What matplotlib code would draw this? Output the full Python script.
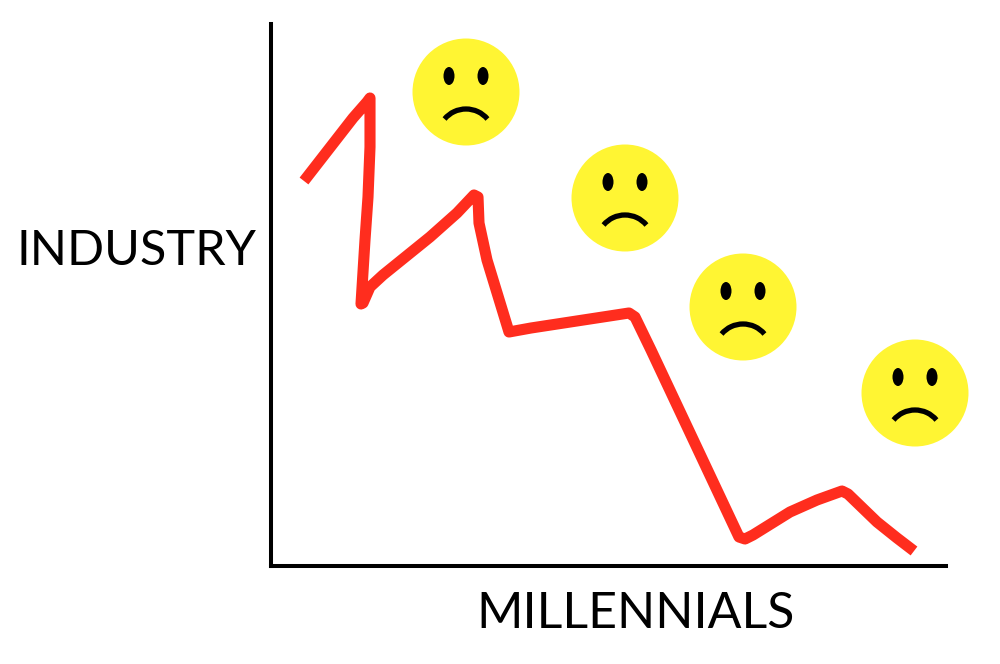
import matplotlib
matplotlib.use("Agg")
import matplotlib.pyplot as plt
from matplotlib.patches import Circle, Ellipse, Arc

# line values
industry_x = [33, 82, 96, 99, 99, 97, 94, 90, 92, 99, 112, 159, 186, 203, 207, 208, 216, 238, 260, 358, 364,
              380, 436, 468, 474, 482, 519, 546, 571, 577, 606, 626, 643]
industry_y = [385, 448, 464, 468, 419, 369, 326, 262, 263, 279, 291, 329, 353, 371, 369, 343, 306, 234, 238, 253, 249,
              216, 97, 29, 27, 31, 54, 66, 75, 72, 44, 28, 15]

# where the sad faces sit
face_x = [195, 354, 472, 644]
face_y = [474, 368, 259, 173]

x_label = "MILLENNIALS"
y_label = "INDUSTRY"

RED = "#FF2D1E"
YELLOW = "#FFF533"

fig = plt.figure(figsize=(10, 6.64), dpi=100)
ax = fig.add_axes([0.271, 98 / 664, 0.675, 544 / 664])
ax.set_xlim(0, 675)
ax.set_ylim(0, 544)

ax.plot(industry_x, industry_y, color=RED, lw=8, solid_joinstyle="round", solid_capstyle="butt")

for fx, fy in zip(face_x, face_y):
    ax.add_patch(Circle((fx, fy), 53.5, color=YELLOW, lw=0, clip_on=False))
    ax.add_patch(Ellipse((fx - 17, fy + 16), 11, 18, color="black", lw=0, clip_on=False))
    ax.add_patch(Ellipse((fx + 17, fy + 16), 11, 18, color="black", lw=0, clip_on=False))
    ax.add_patch(Arc((fx, fy - 45), 56, 56, theta1=40, theta2=140, color="black", lw=3.8, clip_on=False))

for side in ["top", "right"]:
    ax.spines[side].set_visible(False)
for side in ["left", "bottom"]:
    ax.spines[side].set_linewidth(2.9)
ax.spines["left"].set_bounds(0, 542)
ax.set_xticks([])
ax.set_yticks([])

ax.text(365, -48, x_label, fontsize=36, family="Lato", ha="center", va="center", color="black")
ax.text(-134, 315, y_label, fontsize=35, family="Lato", ha="center", va="center", color="black")

plt.savefig("out.png", dpi=100)
